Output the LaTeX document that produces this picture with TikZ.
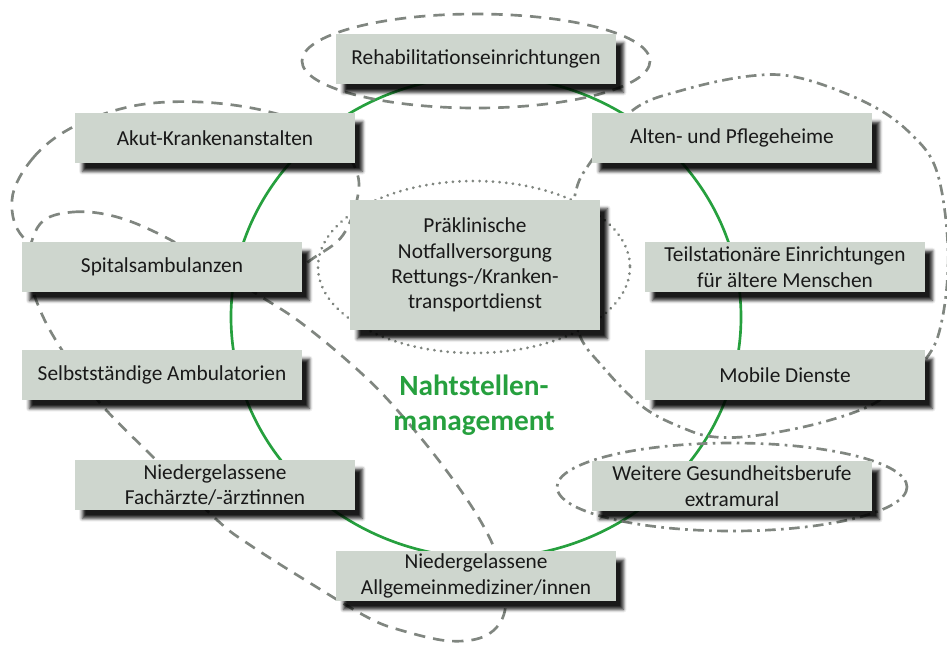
\documentclass[tikz,border=0pt]{standalone}
\usepackage{fontspec}
\setmainfont{Carlito}
\usetikzlibrary{shadows.blur}

\definecolor{boxfill}{RGB}{206,214,206}
\definecolor{ringgreen}{RGB}{38,160,62}
\definecolor{loopgray}{RGB}{128,134,128}

\tikzset{every picture/.style={line width=0.75pt}}
\tikzset{
  care/.style={draw=none, fill=boxfill, minimum width=210pt, minimum height=37pt,
    inner sep=2pt, align=center, text=black!90, font=\fontsize{16}{19}\selectfont,
    blur shadow={shadow xshift=5.5pt, shadow yshift=-6.5pt, shadow blur radius=2.5pt, shadow opacity=90}},
  loopdash/.style={draw=loopgray, line width=2pt, dash pattern=on 8.5pt off 6pt},
  loopdot/.style={draw=loopgray, line width=2.3pt, dash pattern=on 0.01pt off 5pt, line cap=round},
  loopdashdot/.style={draw=loopgray, line width=2pt, dash pattern=on 8pt off 4pt on 2pt off 4pt},
}

\begin{document}
\begin{tikzpicture}[x=0.75pt,y=0.75pt,yscale=-1,xscale=1]
\useasboundingbox (0,0) rectangle (947,644);

%Ring
\draw [ringgreen, line width=2pt] (486,317) ellipse [x radius=255, y radius=241];

%Loops
\draw [loopdash] (476,61) ellipse [x radius=174, y radius=47];
\draw [loopdash] plot [smooth cycle, tension=0.6] coordinates {(12,200) (33,158) (73,127) (133,106) (200,102) (270,112) (330,135) (356,170) (357,200) (343,235) (318,255) (280,275) (200,285) (100,275) (28,242)};
\draw [loopdash] plot [smooth cycle, tension=0.6] coordinates {(40,224) (73,212) (117,217) (167,238) (215,268) (260,296) (300,322) (350,363) (390,402) (440,462) (480,520) (500,565) (505,610) (487,635) (450,641) (400,630) (367,617) (310,583) (250,545) (217,520) (153,457) (100,403) (60,347) (38,305) (28,265)};
\draw [loopdot] (474,267) ellipse [x radius=156, y radius=86];
\draw [loopdashdot] plot [smooth cycle, tension=0.6] coordinates {(578,330) (572,260) (575,195) (592,160) (633,110) (683,90) (750,76) (800,78) (867,103) (910,133) (937,172) (948,250) (942,320) (925,360) (880,400) (827,421) (760,435) (715,437) (683,428) (643,407) (603,367)};
\draw [loopdashdot] (732,487) ellipse [x radius=175, y radius=44];

%Boxes
\node [care] (rehab) at (476,59) {Rehabilitationseinrichtungen};
\node [care] (akut) at (215,138) {Akut-Krankenanstalten};
\node [care] (alten) at (732,138) {Alten- und Pflegeheime};
\node [care] (spital) at (162,267) {Spitalsambulanzen};
\node [care, minimum width=187.5pt, minimum height=97.5pt] (praekl) at (475,265) {Präklinische\\Notfallversorgung\\Rettungs-/Kranken-\\transportdienst};
\node [care] (teilst) at (785,267) {Teilstationäre Einrichtungen\\für ältere Menschen};
\node [care] (selbst) at (162,375) {Selbstständige Ambulatorien};
\node [care] (mobile) at (785,375) {Mobile Dienste};
\node [care] (fach) at (215,485) {Niedergelassene\\Fachärzte/-ärztinnen};
\node [care] (weitere) at (732,486) {Weitere Gesundheitsberufe\\extramural};
\node [care] (allgmed) at (476,576) {Niedergelassene\\Allgemeinmediziner/innen};

% Text Node
\node [text=ringgreen, align=center, font=\fontsize{22}{26}\selectfont\bfseries] (naht) at (474,405) {Nahtstellen-\\management};

\end{tikzpicture}
\end{document}
